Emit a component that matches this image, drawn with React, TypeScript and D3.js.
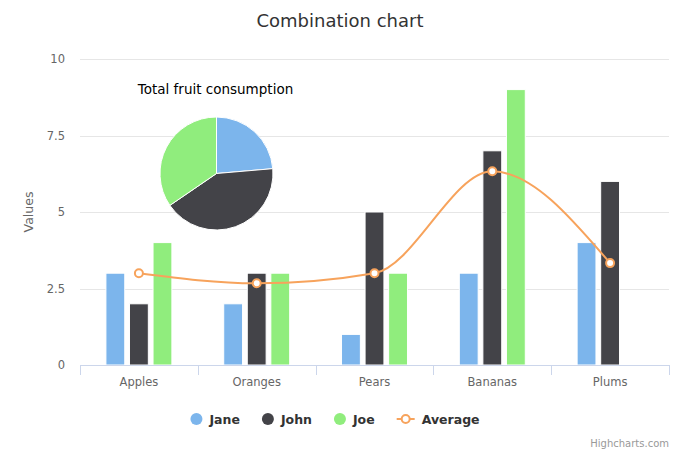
import React, { useEffect, useRef } from 'react';
import * as d3 from 'd3';

const categories = ['Apples', 'Oranges', 'Pears', 'Bananas', 'Plums'];
const seriesNames = ['Jane', 'John', 'Joe'];
const janeValues = [3, 2, 1, 3, 4];
const johnValues = [2, 3, 5, 7, 6];
const joeValues = [4, 3, 3, 9, 0];
const averageValues = [3, 2.67, 3, 6.33, 3.33];
const pieValues = [13, 23, 19];
const yTicks = [0, 2.5, 5, 7.5, 10];

const colors = ['#7cb5ec', '#434348', '#90ed7d'];
const avgColor = '#f7a35c';
const font = '"DejaVu Sans", sans-serif';

const App: React.FC = () => {
  const svgRef = useRef<SVGSVGElement>(null);

  useEffect(() => {
    if (!svgRef.current) return;
    const root = d3.select(svgRef.current);
    root.selectAll('*').remove();

    const W = 680;
    const H = 453;
    const margin = { top: 59, right: 11, bottom: 88, left: 80 };
    const width = W - margin.left - margin.right;
    const height = H - margin.top - margin.bottom;

    root.attr('width', W).attr('height', H).style('font-family', font);
    root.append('rect').attr('width', W).attr('height', H).attr('fill', '#fff');

    // Title
    root
      .append('text')
      .attr('x', W / 2)
      .attr('y', 27)
      .attr('text-anchor', 'middle')
      .style('font-size', '18px')
      .style('fill', '#333333')
      .text('Combination chart');

    const g = root.append('g').attr('transform', `translate(${margin.left},${margin.top})`);

    const x = d3.scaleBand<string>().domain(categories).range([0, width]);
    const xInner = d3
      .scaleBand<string>()
      .domain(seriesNames)
      .range([x.bandwidth() * 0.2, x.bandwidth() * 0.8])
      .paddingInner(0.2)
      .paddingOuter(0.1);
    const y = d3.scaleLinear().domain([0, 10]).range([height, 0]);

    // Grid
    g.selectAll('.grid')
      .data(yTicks)
      .enter()
      .append('line')
      .attr('x1', 0)
      .attr('x2', width)
      .attr('y1', (d) => Math.round(y(d)) + 0.5)
      .attr('y2', (d) => Math.round(y(d)) + 0.5)
      .attr('stroke', '#e6e6e6');

    // Y labels
    g.selectAll('.ylab')
      .data(yTicks)
      .enter()
      .append('text')
      .attr('x', -15)
      .attr('y', (d) => y(d) + 4)
      .attr('text-anchor', 'end')
      .style('font-size', '11.5px')
      .style('fill', '#666666')
      .text((d) => String(d));

    // Y title
    g.append('text')
      .attr('transform', `translate(-47,${height / 2}) rotate(-90)`)
      .attr('text-anchor', 'middle')
      .style('font-size', '12.5px')
      .style('fill', '#666666')
      .text('Values');

    // Bars
    const seriesData = [janeValues, johnValues, joeValues];
    seriesData.forEach((vals, si) => {
      g.selectAll(`.bar-${si}`)
        .data(vals)
        .enter()
        .append('rect')
        .attr('x', (_, i) => (x(categories[i]) as number) + (xInner(seriesNames[si]) as number))
        .attr('y', (d) => y(d))
        .attr('width', xInner.bandwidth())
        .attr('height', (d) => height - y(d))
        .attr('fill', colors[si])
        .attr('stroke', '#ffffff')
        .attr('stroke-width', 1);
    });

    // X axis
    g.append('line')
      .attr('x1', 0)
      .attr('x2', width)
      .attr('y1', height + 0.5)
      .attr('y2', height + 0.5)
      .attr('stroke', '#ccd6eb');
    const boundaries = categories.map((c) => x(c) as number).concat([width]);
    g.selectAll('.xtick')
      .data(boundaries)
      .enter()
      .append('line')
      .attr('x1', (d) => Math.round(d) + 0.5)
      .attr('x2', (d) => Math.round(d) + 0.5)
      .attr('y1', height)
      .attr('y2', height + 10)
      .attr('stroke', '#ccd6eb');
    g.selectAll('.xlab')
      .data(categories)
      .enter()
      .append('text')
      .attr('x', (d) => (x(d) as number) + x.bandwidth() / 2)
      .attr('y', height + 21)
      .attr('text-anchor', 'middle')
      .style('font-size', '11.5px')
      .style('fill', '#666666')
      .text((d) => d);

    // Average spline
    const line = d3
      .line<number>()
      .x((_, i) => (x(categories[i]) as number) + x.bandwidth() / 2)
      .y((d) => y(d))
      .curve(d3.curveMonotoneX);
    g.append('path')
      .datum(averageValues)
      .attr('d', line)
      .attr('fill', 'none')
      .attr('stroke', avgColor)
      .attr('stroke-width', 2);
    g.selectAll('.avg-dot')
      .data(averageValues)
      .enter()
      .append('circle')
      .attr('cx', (_, i) => (x(categories[i]) as number) + x.bandwidth() / 2)
      .attr('cy', (d) => y(d))
      .attr('r', 4)
      .attr('fill', '#ffffff')
      .attr('stroke', avgColor)
      .attr('stroke-width', 2);

    // Pie
    const pieCx = 216.5;
    const pieCy = 173.5;
    const pieR = 56.5;
    root
      .append('text')
      .attr('x', pieCx - 1)
      .attr('y', 94)
      .attr('text-anchor', 'middle')
      .style('font-size', '13.5px')
      .style('fill', '#000000')
      .text('Total fruit consumption');
    const pie = d3.pie<number>().sort(null);
    const arc = d3.arc<d3.PieArcDatum<number>>().innerRadius(0).outerRadius(pieR);
    root
      .append('g')
      .attr('transform', `translate(${pieCx},${pieCy})`)
      .selectAll('path')
      .data(pie(pieValues))
      .enter()
      .append('path')
      .attr('d', arc)
      .attr('fill', (_, i) => colors[i])
      .attr('stroke', '#ffffff')
      .attr('stroke-width', 1)
      .attr('stroke-linejoin', 'round');

    // Legend
    const legend = root.append('g');
    const items = [...seriesNames, 'Average'];
    let cursor = 0;
    items.forEach((name, i) => {
      const it = legend.append('g');
      const isLine = i === 3;
      const symW = isLine ? 18 : 12;
      if (isLine) {
        it.append('line')
          .attr('x1', 0)
          .attr('x2', symW)
          .attr('y1', 0)
          .attr('y2', 0)
          .attr('stroke', avgColor)
          .attr('stroke-width', 2);
        it.append('circle')
          .attr('cx', symW / 2)
          .attr('cy', 0)
          .attr('r', 4)
          .attr('fill', '#fff')
          .attr('stroke', avgColor)
          .attr('stroke-width', 2);
      } else {
        it.append('circle').attr('cx', 6).attr('cy', 0).attr('r', 6).attr('fill', colors[i]);
      }
      const t = it
        .append('text')
        .attr('x', symW + 7)
        .attr('y', 4.5)
        .style('font-size', '12.5px')
        .style('font-weight', 'bold')
        .style('fill', '#333333')
        .text(name);
      const tw = (t.node() as SVGTextElement).getComputedTextLength();
      it.attr('transform', `translate(${cursor},0)`);
      cursor += symW + 7 + tw + (i < items.length - 1 ? 22 : 0);
    });
    legend.attr('transform', `translate(${(W - cursor) / 2 - 5},419)`);

    // Credits
    root
      .append('text')
      .attr('x', W - 11)
      .attr('y', 447)
      .attr('text-anchor', 'end')
      .style('font-size', '10px')
      .style('fill', '#999999')
      .text('Highcharts.com');
  }, []);

  return <svg ref={svgRef} style={{ display: 'block', position: 'absolute', left: 0, top: 0 }} />;
};

export default App;
